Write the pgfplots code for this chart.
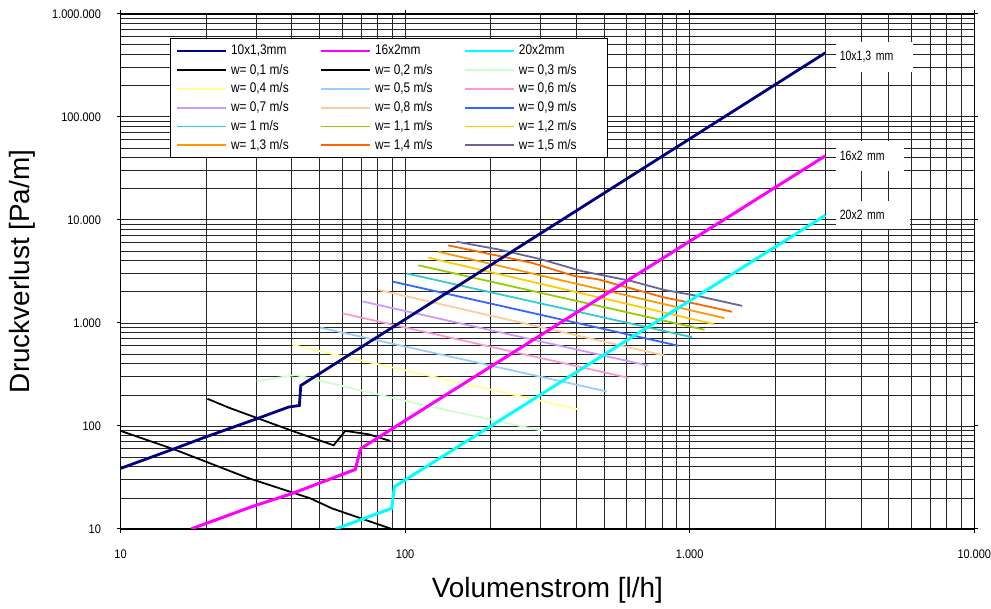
\documentclass[border=0pt]{standalone}
\usepackage{fontspec}
\setmainfont{Liberation Sans}
\newfontfamily\narrowfont[FakeStretch=0.88]{Liberation Sans}
\newfontfamily\narrowerfont[FakeStretch=0.85]{Liberation Sans}
\newfontfamily\narrowestfont[FakeStretch=0.78]{Liberation Sans}
\usepackage{pgfplots}
\pgfplotsset{compat=1.18}
\definecolor{c10}{RGB}{0,0,128}
\definecolor{c16}{RGB}{255,0,255}
\definecolor{c20}{RGB}{0,255,255}
\definecolor{w03}{RGB}{204,255,204}
\definecolor{w04}{RGB}{255,255,153}
\definecolor{w05}{RGB}{153,204,255}
\definecolor{w06}{RGB}{255,153,204}
\definecolor{w07}{RGB}{204,153,255}
\definecolor{w08}{RGB}{255,204,153}
\definecolor{w09}{RGB}{51,102,255}
\definecolor{w10}{RGB}{51,204,204}
\definecolor{w11}{RGB}{153,204,0}
\definecolor{w12}{RGB}{255,204,0}
\definecolor{w13}{RGB}{255,153,0}
\definecolor{w14}{RGB}{255,102,0}
\definecolor{w15}{RGB}{102,102,153}
\newcommand\tf{\narrowfont\fontsize{12.5bp}{14bp}\selectfont}
\newcommand\lf{\narrowerfont\fontsize{14bp}{16bp}\selectfont}
\newcommand\boxf{\narrowestfont\fontsize{13.5bp}{15bp}\selectfont}
\newcommand\bigf{\fontsize{28bp}{32bp}\selectfont}
\newcommand\lab[1]{\makebox[80bp][l]{#1}}
\begin{document}
\begin{tikzpicture}
\begin{axis}[
  name=ax,
  scale only axis, width=857bp, height=517bp,
  xmode=log, ymode=log,
  xmin=10, xmax=10000, ymin=10, ymax=1000000,
  xtick={10,100,1000,10000},
  xticklabels={10,100,1.000,10.000},
  ytick={10,100,1000,10000,100000,1000000},
  yticklabels={10,100,1.000,10.000,100.000,1.000.000},
  ticklabel style={font=\tf},
  xticklabel style={anchor=center, inner sep=0pt, yshift=-21bp},
  yticklabel style={anchor=east, inner sep=0pt, xshift=-15.5bp},
  tick align=outside, major tick length=4bp, minor tick length=0pt,
  tick style={black, line width=1bp},
  grid=both,
  major grid style={black!85, line width=0.9bp},
  minor grid style={black!85, line width=0.9bp},
  axis line style={black, line width=1.3bp},
  xlabel={Volumenstrom [l/h]},
  ylabel={Druckverlust [Pa/m]},
  label style={font=\bigf},
  xlabel style={at={(axis description cs:0.5,-0.12)}, anchor=center},
  ylabel style={at={(axis description cs:-0.1155,0.5)}, anchor=center},
  legend columns=3,
  legend cell align=left,
  legend image code/.code={\draw[#1] (0bp,0bp) -- (49bp,0bp);},
  legend style={at={(axis description cs:0.0583,0.9536)}, anchor=north west,
    draw=black, line width=1bp, fill=white, font=\lf,
    inner xsep=5bp, inner ysep=3bp, row sep=0pt,
    nodes={inner xsep=4bp, inner ysep=0pt, minimum height=19bp},
    /tikz/every odd column/.append style={column sep=0bp},
    /tikz/every even column/.append style={column sep=5bp}},
]
\addlegendimage{c10, line width=2.5bp}\addlegendentry{\lab{10x1,3mm}}
\addlegendimage{c16, line width=2.5bp}\addlegendentry{\lab{16x2mm}}
\addlegendimage{c20, line width=2.5bp}\addlegendentry{\lab{20x2mm}}
\addlegendimage{black, line width=2bp}\addlegendentry{\lab{w= 0,1 m/s}}
\addlegendimage{black, line width=2bp}\addlegendentry{\lab{w= 0,2 m/s}}
\addlegendimage{w03, line width=2bp}\addlegendentry{\lab{w= 0,3 m/s}}
\addlegendimage{w04, line width=2bp}\addlegendentry{\lab{w= 0,4 m/s}}
\addlegendimage{w05, line width=2bp}\addlegendentry{\lab{w= 0,5 m/s}}
\addlegendimage{w06, line width=2bp}\addlegendentry{\lab{w= 0,6 m/s}}
\addlegendimage{w07, line width=2bp}\addlegendentry{\lab{w= 0,7 m/s}}
\addlegendimage{w08, line width=2bp}\addlegendentry{\lab{w= 0,8 m/s}}
\addlegendimage{w09, line width=2bp}\addlegendentry{\lab{w= 0,9 m/s}}
\addlegendimage{w10, line width=2bp}\addlegendentry{\lab{w= 1 m/s}}
\addlegendimage{w11, line width=2bp}\addlegendentry{\lab{w= 1,1 m/s}}
\addlegendimage{w12, line width=2bp}\addlegendentry{\lab{w= 1,2 m/s}}
\addlegendimage{w13, line width=2bp}\addlegendentry{\lab{w= 1,3 m/s}}
\addlegendimage{w14, line width=2bp}\addlegendentry{\lab{w= 1,4 m/s}}
\addlegendimage{w15, line width=2bp}\addlegendentry{\lab{w= 1,5 m/s}}
% velocity lines
\addplot[black, line width=1.8bp, forget plot] coordinates {(10,89.6) (15.5,59) (27.9,31.4) (46.5,19.8) (55.3,15.85) (89.7,10)};
\addplot[black, line width=1.8bp, forget plot] coordinates {(20.2,183.6) (24.1,150) (40.1,89.6) (56.1,64.9) (61.6,89.6) (74.4,83) (88.6,71.6)};
\addplot[w03, line width=1.8bp, forget plot] coordinates {(30.1,272) (41.2,313) (111,164) (305,89.6)};
\addplot[w04, line width=1.8bp, forget plot] coordinates {(40.3,611) (407.6,144.7)};
\addplot[w05, line width=1.8bp, forget plot] coordinates {(50.4,900) (512,216)};
\addplot[w06, line width=1.8bp, forget plot] coordinates {(60.3,1239) (610,293)};
\addplot[w07, line width=1.8bp, forget plot] coordinates {(70.9,1618) (716,385)};
\addplot[w08, line width=1.8bp, forget plot] coordinates {(80.6,2094) (817,482)};
\addplot[w09, line width=1.8bp, forget plot] coordinates {(90.3,2524) (912,601)};
\addplot[w10, line width=1.8bp, forget plot] coordinates {(101.3,3020) (1021,726)};
\addplot[w11, line width=1.8bp, forget plot] coordinates {(111.3,3630) (1127,859)};
\addplot[w12, line width=1.8bp, forget plot] coordinates {(120.6,4306) (1216,975)};
\addplot[w13, line width=1.8bp, forget plot] coordinates {(130.8,4920) (1325,1114)};
\addplot[w14, line width=1.8bp, forget plot] coordinates {(141.8,5663) (201,4634) (277,3855) (393.6,2857) (475,2658) (813,1768) (1063,1524) (1410,1283)};
\addplot[w15, line width=1.8bp, forget plot] coordinates {(151.6,6150) (212,5184) (300.6,4150) (415,3199) (621,2559) (813,2094) (1063,1833) (1528,1466)};
% pipes
\addplot[c10, line width=2.8bp, forget plot] coordinates {(10,38.7) (15.5,60.3) (19.95,78.3) (30.6,119.4) (39,152.8) (42.5,158) (43,247) (3000,420000)}
  node[pos=1, anchor=west, xshift=9bp, yshift=-4bp, fill=white, font=\boxf, text=black, inner xsep=4bp, text width=69bp, minimum height=30bp] {10x1,3 mm};
\addplot[c16, line width=3bp, forget plot] coordinates {(17.7,10) (29,16.5) (40.1,22.1) (66.8,37.8) (69.8,60.3) (3000,42000)}
  node[pos=1, anchor=west, xshift=9bp, fill=white, font=\boxf, text=black, inner xsep=4bp, text width=60bp, minimum height=30bp] {16x2 mm};
\addplot[c20, line width=3bp, forget plot] coordinates {(56.9,10) (89.7,15.85) (91.7,25.7) (3000,11100)}
  node[pos=1, anchor=west, xshift=9bp, fill=white, font=\boxf, text=black, inner xsep=4bp, text width=66bp, minimum height=28bp] {20x2 mm};
\end{axis}
\path ([shift={(-121bp,-80bp)}]ax.south west) rectangle ([shift={(13bp,14bp)}]ax.north east);
\end{tikzpicture}
\end{document}
